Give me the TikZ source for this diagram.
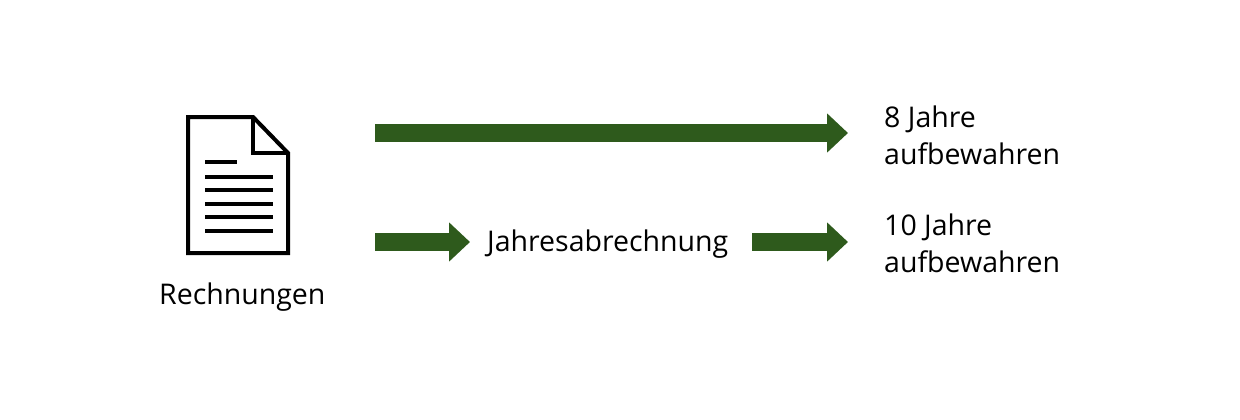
\documentclass[tikz,border=0pt]{standalone}
\usepackage{fontspec}
\setmainfont{Open Sans}
\usetikzlibrary{arrows.meta}
\definecolor{arrgreen}{HTML}{2E5A1C}
\begin{document}
\begin{tikzpicture}[x=1pt,y=-1pt,
  lbl/.style={font=\fontsize{28.5}{37}\selectfont,inner sep=0pt,text=black},
  fat/.style={arrgreen,line width=18pt,-{Triangle[length=21pt,width=38pt]}},
  doc/.style={line width=4pt,line join=miter}]
\useasboundingbox (0,0) rectangle (1240,420);
\fill[white] (0,0) rectangle (1240,420);
% document icon
\draw[doc] (188,117) -- (253,117) -- (288,153) -- (288,253) -- (188,253) -- cycle;
\draw[doc] (253,117) -- (253,153) -- (288,153);
\foreach \y/\e in {162/237,177/273,190/273,204/273,217/273,231/273}
  \draw[line width=3.5pt] (205,\y) -- (\e,\y);
\node[lbl,anchor=west] (rech) at (159,297) {Rechnungen};
\node[lbl,anchor=west,align=left] (t8) at (884,135) {8 Jahre\\aufbewahren};
\node[lbl,anchor=west] (jahr) at (487,244) {Jahresabrechnung};
\node[lbl,anchor=west,align=left] (t10) at (884,243) {10 Jahre\\aufbewahren};
\coordinate (a1s) at (375,133); \coordinate (a1e) at (848,133);
\coordinate (a2s) at (375,242); \coordinate (a2e) at (470,242);
\coordinate (a3s) at (752,242); \coordinate (a3e) at (848,242);
\draw[fat] (a1s) -- (a1e);
\draw[fat] (a2s) -- (a2e);
\draw[fat] (a3s) -- (a3e);
\end{tikzpicture}
\end{document}
